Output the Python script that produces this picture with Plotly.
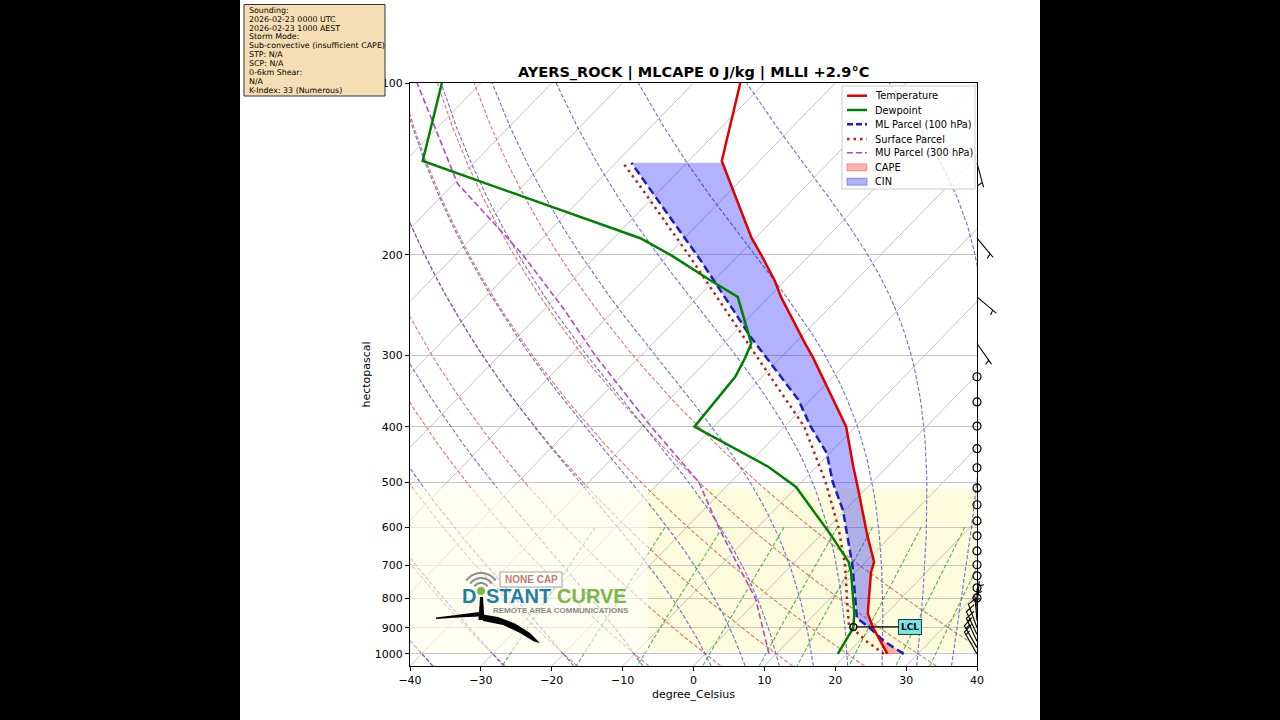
import numpy as np
import plotly.graph_objects as go

# ------------------------------------------------------------------ data ----
pressure_hpa = [1000, 900, 850, 720, 690, 620, 510, 470, 400, 327, 303, 286,
                237, 222, 201, 187, 137, 100]
temperature_c = [25.7, 20.1, 17.4, 12.2, 11.2, 6.6, -1.4, -4.8, -11.3, -21.6,
                 -25.4, -28.5, -38.3, -41.4, -46.6, -50.5, -65.3, -73.4]
dewpoint_c = [18.7, 17.3, 15.5, 9.4, 7.6, 1.5, -10.1, -16.8, -32.7, -33.8,
              -35.0, -36.1, -44.4, -50.4, -59.2, -66.2, -107.5, -115.5]

ml_parcel_p = [1000, 950, 900, 866, 794, 703, 560, 500, 445, 400, 359, 300,
               278, 250, 204, 150, 138]
ml_parcel_t = [28.0, 23.5, 19.6, 16.5, 13.3, 8.8, -0.3, -5.6, -10.4, -16.3,
               -21.7, -32.6, -37.2, -43.2, -54.8, -72.9, -77.8]
sb_parcel_p = [1000, 950, 890, 850, 800, 700, 600, 500, 400, 300, 250, 200, 150, 138]
sb_parcel_t = [25.2, 21.0, 16.3, 14.6, 12.4, 7.6, 1.4, -6.6, -17.2, -33.8,
               -44.3, -57.1, -74.0, -79.0]
mu_parcel_p = [1000, 900, 800, 700, 600, 500, 400, 300, 250, 200, 150, 100]
mu_parcel_t = [9.0, 4.5, -0.5, -7.5, -15.5, -24.5, -38.8, -56.5, -67.0, -80.5,
               -99.5, -119.0]

lcl_p = 897.0
lcl_t = 17.2

wind_p = [138, 187, 237, 286, 327, 362, 399, 437, 472, 512, 548, 585, 621, 660,
          698, 730, 766, 798, 825, 850, 875, 900, 925, 950, 975, 1000]
wind_speed_kt = [5, 5, 5, 5, 0, 0, 0, 0, 0, 0, 0, 0, 0, 0,
                 0, 0, 0, 0, 5, 5, 5, 10, 10, 15, 15, 15]
wind_dir_deg = [165, 140, 130, 145, 0, 0, 0, 0, 0, 0, 0, 0, 0, 0,
                0, 0, 0, 0, 5, 0, 355, 340, 335, 335, 330, 330]

x_ticks = [-40, -30, -20, -10, 0, 10, 20, 30, 40]
p_ticks = [100, 200, 300, 400, 500, 600, 700, 800, 900, 1000]

shade_p_bottom, shade_p_top = 990, 513

title_text = "AYERS_ROCK | MLCAPE 0 J/kg | MLLI +2.9°C"
info_lines = ["Sounding:", "2026-02-23 0000 UTC", "2026-02-23 1000 AEST",
              "Storm Mode:", "Sub-convective (insufficient CAPE)", "STP: N/A",
              "SCP: N/A", "0-6km Shear:", "N/A", "K-Index: 33 (Numerous)"]
legend_labels = ["Temperature", "Dewpoint", "ML Parcel (100 hPa)", "Surface Parcel",
                 "MU Parcel (300 hPa)", "CAPE", "CIN"]

# background-line families (MetPy defaults)
dry_t0 = np.arange(-40, 41, 10)
moist_t0 = np.concatenate((np.arange(-40, 0, 10), np.arange(0, 91, 5)))
mix_ratios = [0.0004, 0.001, 0.002, 0.004, 0.007, 0.01, 0.016, 0.024, 0.032]

# ------------------------------------------------------------ constants -----
RD, CPD, LV, EPS = 287.04749, 1004.67, 2.50084e6, 0.6219569
KAPPA = RD / CPD
P_BOT, P_TOP = 1050.0, 100.0
X_MIN, X_MAX = -40.0, 40.0
SKEW = X_MAX - X_MIN          # 45 deg skew in axes coordinates

FIG_W, FIG_H = 1280, 720
PL, PR, PT, PB = 410, 977, 83, 666
PW, PH = PR - PL, PB - PT

FONT = "DejaVu Sans"


def skew_x(t, p):
    t = np.asarray(t, dtype=float)
    p = np.asarray(p, dtype=float)
    return t + SKEW * np.log(P_BOT / p) / np.log(P_BOT / P_TOP)


def px(x):
    return (x - PL) / PW


def py(y):
    return (PB - y) / PH


def multiline(segs):
    xs, ys = [], []
    for x, p in segs:
        xs.extend(list(x)); xs.append(None)
        ys.extend(list(p)); ys.append(None)
    return xs, ys


def moist_rate(t_k, p):
    es = 6.112 * np.exp(17.67 * (t_k - 273.15) / (t_k - 29.65))
    rs = EPS * es / (p - es)
    return (RD * t_k + LV * rs) / (CPD + LV * LV * rs * EPS / (RD * t_k * t_k))


def moist_lapse(t0_c, p_out, p_ref=1000.0, n=300):
    t0 = np.asarray(t0_c, float) + 273.15

    def integrate(p_end):
        lnp = np.linspace(np.log(p_ref), np.log(p_end), n)
        t = t0.copy()
        temps = [t.copy()]
        for i in range(n - 1):
            h = lnp[i + 1] - lnp[i]
            p0, pm, p1 = np.exp(lnp[i]), np.exp(lnp[i] + h / 2), np.exp(lnp[i + 1])
            k1 = moist_rate(t, p0)
            k2 = moist_rate(t + h / 2 * k1, pm)
            k3 = moist_rate(t + h / 2 * k2, pm)
            k4 = moist_rate(t + h * k3, p1)
            t = t + h / 6 * (k1 + 2 * k2 + 2 * k3 + k4)
            temps.append(t.copy())
        return lnp, np.array(temps)

    lnp_up, t_up = integrate(P_TOP)
    lnp_dn, t_dn = integrate(P_BOT)
    lnp_all = np.concatenate([lnp_dn[::-1], lnp_up[1:]])[::-1]
    t_all = np.concatenate([t_dn[::-1], t_up[1:]])[::-1]
    return np.array([np.interp(np.log(p_out), lnp_all, t_all[:, j])
                     for j in range(t_all.shape[1])]) - 273.15


def interp_lnp(p_src, v_src, p_new):
    lp = np.log(np.asarray(p_src, float))
    order = np.argsort(lp)
    return np.interp(np.log(p_new), lp[order], np.asarray(v_src, float)[order])


def area_segments(pp, tp, pe, te):
    lo, hi = min(pp), max(pp)
    p_all = np.array(sorted(set(list(pp) + [p for p in pe if lo <= p <= hi]),
                            reverse=True), float)
    par = interp_lnp(pp, tp, p_all)
    env = interp_lnp(pe, te, p_all)
    d = par - env
    segs = []
    cur = dict(p=[p_all[0]], par=[par[0]], env=[env[0]], s=np.sign(d[0]))
    for i in range(1, len(p_all)):
        s = np.sign(d[i])
        if s != 0 and cur["s"] != 0 and s != cur["s"]:
            f = d[i - 1] / (d[i - 1] - d[i])
            pc = np.exp(np.log(p_all[i - 1]) + f * (np.log(p_all[i]) - np.log(p_all[i - 1])))
            tc = par[i - 1] + f * (par[i] - par[i - 1])
            cur["p"].append(pc); cur["par"].append(tc); cur["env"].append(tc)
            segs.append(cur)
            cur = dict(p=[pc], par=[tc], env=[tc], s=s)
        cur["p"].append(p_all[i]); cur["par"].append(par[i]); cur["env"].append(env[i])
    segs.append(cur)
    return segs


def barb_vertices(speed, direction, s=3.6):
    L = 7.0
    spacing, full_h, full_w = L * 0.125, L * 0.4, L * 0.25
    mag = 5 * np.round(speed / 5.0)
    nflags = int(mag // 50); mag -= nflags * 50
    nbarbs = int(mag // 10); mag -= nbarbs * 10
    half = mag >= 5
    verts = [(0.0, 0.0)]
    offset = L
    for _ in range(nflags):
        if offset != L:
            offset += spacing / 2.0
        verts += [(0, offset), (full_h, offset - full_w / 2), (0, offset - full_w)]
        offset -= full_w + spacing
    for _ in range(nbarbs):
        verts += [(0, offset), (full_h, offset + full_w / 2), (0, offset)]
        offset -= spacing
    if half:
        if offset == L:
            verts.append((0, offset))
            offset -= 1.5 * spacing
        verts += [(0, offset), (full_h / 2, offset + full_w / 4), (0, offset)]
    rad = np.deg2rad(direction)
    u, v = -speed * np.sin(rad), -speed * np.cos(rad)
    a = np.arctan2(v, u) + np.pi / 2
    out = []
    for x, y in verts:
        out.append((s * (x * np.cos(a) - y * np.sin(a)), s * (x * np.sin(a) + y * np.cos(a))))
    return out


# ------------------------------------------------------------- figure -------
fig = go.Figure()
p_bg = np.linspace(P_BOT, P_TOP, 50)

# isotherms (skewed x grid)
iso = [(skew_x([t, t], [P_BOT, P_TOP]), [P_BOT, P_TOP]) for t in range(-130, 41, 10)]
xs, ys = multiline(iso)
fig.add_trace(go.Scatter(x=xs, y=ys, mode="lines", hoverinfo="skip",
                         line=dict(color="#b4b4b4", width=0.8)))

# dry adiabats
dry = [(skew_x((t0 + 273.15) * (p_bg / 1000.0) ** KAPPA - 273.15, p_bg), p_bg)
       for t0 in dry_t0]
xs, ys = multiline(dry)
fig.add_trace(go.Scatter(x=xs, y=ys, mode="lines", hoverinfo="skip",
                         line=dict(color="rgba(210,85,70,0.8)", width=1.1, dash="4px,2px")))

# moist adiabats
moist = moist_lapse(moist_t0, p_bg)
xs, ys = multiline([(skew_x(row, p_bg), p_bg) for row in moist])
fig.add_trace(go.Scatter(x=xs, y=ys, mode="lines", hoverinfo="skip",
                         line=dict(color="rgba(75,75,195,0.8)", width=1.1, dash="4px,2px")))

# mixing ratio lines
p_mix = np.linspace(600, P_BOT, 50)
segs = []
for w in mix_ratios:
    e = p_mix * w / (EPS + w)
    lg = np.log(e / 6.112)
    segs.append((skew_x(243.5 * lg / (17.67 - lg), p_mix), p_mix))
xs, ys = multiline(segs)
fig.add_trace(go.Scatter(x=xs, y=ys, mode="lines", hoverinfo="skip",
                         line=dict(color="rgba(50,155,50,0.8)", width=1.1, dash="4px,2px")))

# CAPE / CIN shading (ML parcel vs environment)
for seg in area_segments(ml_parcel_p, ml_parcel_t, pressure_hpa, temperature_c):
    p = np.array(seg["p"])
    xpoly = np.concatenate([skew_x(seg["par"], p), skew_x(seg["env"], p)[::-1]])
    ypoly = np.concatenate([p, p[::-1]])
    col = "rgba(255,0,0,0.3)" if seg["s"] > 0 else "rgba(0,0,255,0.3)"
    fig.add_trace(go.Scatter(x=xpoly, y=ypoly, mode="lines", fill="toself",
                             fillcolor=col, line=dict(width=0), hoverinfo="skip"))

# parcels
fig.add_trace(go.Scatter(x=skew_x(mu_parcel_t, mu_parcel_p), y=mu_parcel_p, mode="lines",
                         line=dict(color="#b845c8", width=1.6, dash="6px,3px"), hoverinfo="skip"))
fig.add_trace(go.Scatter(x=skew_x(sb_parcel_t, sb_parcel_p), y=sb_parcel_p, mode="lines",
                         line=dict(color="#b22222", width=2.5, dash="2.5px,4px"), hoverinfo="skip"))
fig.add_trace(go.Scatter(x=skew_x(ml_parcel_t, ml_parcel_p), y=ml_parcel_p, mode="lines",
                         line=dict(color="#1c1cc8", width=2.5, dash="8px,4px"), hoverinfo="skip"))

# environment
fig.add_trace(go.Scatter(x=skew_x(temperature_c, pressure_hpa), y=pressure_hpa, mode="lines",
                         line=dict(color="#e00000", width=2.5), name="Temperature"))
fig.add_trace(go.Scatter(x=skew_x(dewpoint_c, pressure_hpa), y=pressure_hpa, mode="lines",
                         line=dict(color="#008000", width=2.5), name="Dewpoint"))

# LCL marker
fig.add_trace(go.Scatter(x=skew_x([lcl_t], [lcl_p]), y=[lcl_p], mode="markers",
                         marker=dict(symbol="circle-open", size=7, color="black",
                                     line=dict(width=1.6, color="black")),
                         cliponaxis=False, hoverinfo="skip"))

# calm winds (empty barbs)
calm_p = [p for p, s in zip(wind_p, wind_speed_kt) if 5 * round(s / 5) == 0]
fig.add_trace(go.Scatter(x=[X_MAX] * len(calm_p), y=calm_p, mode="markers",
                         marker=dict(symbol="circle-open", size=8, color="black",
                                     line=dict(width=1.2, color="black")),
                         cliponaxis=False, hoverinfo="skip"))

shapes = []
annotations = []

# canvas (white figure area inside black frame) and shaded band
shapes.append(dict(type="rect", xref="paper", yref="paper", x0=px(240), x1=px(1040),
                   y0=py(720), y1=py(0), fillcolor="white", line=dict(width=0), layer="below"))
shapes.append(dict(type="rect", xref="paper", yref="y", x0=0, x1=1,
                   y0=shade_p_bottom, y1=shade_p_top, fillcolor="#fcfcdc",
                   line=dict(width=0), layer="below"))

# wind barbs
for p, spd, d in zip(wind_p, wind_speed_kt, wind_dir_deg):
    if 5 * round(spd / 5) == 0:
        continue
    verts = barb_vertices(spd, d)
    path = "M " + " L ".join(f"{x:.2f},{y:.2f}" for x, y in verts)
    shapes.append(dict(type="path", xref="paper", yref="y", xsizemode="pixel",
                       ysizemode="pixel", xanchor=1, yanchor=p, path=path,
                       line=dict(color="black", width=1.1)))

# LCL label
annotations.append(dict(x=float(skew_x(lcl_t, lcl_p)), y=float(np.log10(lcl_p)),
                        xref="x", yref="y", text="<b>LCL</b>", showarrow=True,
                        arrowhead=0, arrowwidth=1.2, arrowcolor="black", ax=57, ay=0,
                        standoff=4, font=dict(family=FONT, size=9, color="black"),
                        bgcolor="#74e6e6", bordercolor="#1d3f3f", borderwidth=1, borderpad=2))

# ---- logo (watermark) ----
def ppath(points, close=True):
    s = "M " + " L ".join(f"{px(x):.5f},{py(y):.5f}" for x, y in points)
    return s + (" Z" if close else "")


def paper_text(x, y, text, size, color, family="Liberation Sans", xanchor="center"):
    return dict(x=px(x), y=py(y), xref="paper", yref="paper", text=text,
                showarrow=False, xanchor=xanchor, yanchor="middle",
                font=dict(family=family, size=size, color=color))


shapes.append(dict(type="rect", xref="paper", yref="paper", x0=px(410), x1=px(648),
                   y0=py(652), y1=py(488), fillcolor="white", opacity=0.6,
                   line=dict(width=0), layer="above"))
# radio waves
for r in (8, 13, 18):
    ang = np.linspace(np.deg2rad(35), np.deg2rad(145), 20)
    pts = [(481 + r * np.cos(a), 591 - r * np.sin(a)) for a in ang]
    shapes.append(dict(type="path", xref="paper", yref="paper", path=ppath(pts, False),
                       line=dict(color="#8c8c8c", width=2)))
# NONE CAP box
shapes.append(dict(type="rect", xref="paper", yref="paper", x0=px(500), x1=px(562),
                   y0=py(587), y1=py(572), fillcolor="rgba(255,255,255,0.7)",
                   line=dict(color="#a0a0a0", width=1)))
annotations.append(paper_text(531, 579.5, "<b>NONE CAP</b>", 10, "#c47a70"))
# antenna swoosh
shapes.append(dict(type="path", xref="paper", yref="paper", fillcolor="black", line=dict(width=0),
                   path=ppath([(436, 617.5), (460, 614.5), (479, 612.0), (479, 616.5),
                               (458, 617.5), (436, 619.0)])))
shapes.append(dict(type="path", xref="paper", yref="paper", fillcolor="black", line=dict(width=0),
                   path=ppath([(480, 597), (483, 597), (484.5, 620), (478.5, 620)])))
shapes.append(dict(type="path", xref="paper", yref="paper", fillcolor="black", line=dict(width=0),
                   path=ppath([(483, 614.5), (498, 617), (515, 623.5), (530, 633), (540, 643),
                               (534, 641.5), (520, 633), (503, 625), (483, 621)])))
shapes.append(dict(type="circle", xref="paper", yref="paper", x0=px(477), x1=px(485),
                   y0=py(595), y1=py(587), fillcolor="#7ab648", line=dict(width=0)))
annotations.append(paper_text(478, 596, "<b>D</b>", 20, "#1d7ea6", xanchor="right"))
annotations.append(paper_text(484, 596, "<b>STANT</b>", 20, "#1d7ea6", xanchor="left"))
annotations.append(paper_text(555, 596, "<b>CURVE</b>", 20, "#7ab648", xanchor="left"))
annotations.append(paper_text(561, 610, "<b>REMOTE AREA COMMUNICATIONS</b>", 8, "#8a8a8a"))

# ---- legend (matplotlib-style box) ----
shapes.append(dict(type="rect", xref="paper", yref="paper", x0=px(842), x1=px(975),
                   y0=py(189), y1=py(86), fillcolor="rgba(255,255,255,0.8)",
                   line=dict(color="#cccccc", width=1)))
row_y = [95.7, 110, 124.3, 139, 152.7, 167.3, 181.7]
line_styles = [("#e00000", 2.5, "solid"), ("#008000", 2.5, "solid"),
               ("#1c1cc8", 2.5, "6px,3px"), ("#b22222", 2.5, "2.5px,4px"),
               ("#b845c8", 1.6, "6px,3px")]
for (col, wd, ds), yy in zip(line_styles, row_y[:5]):
    shapes.append(dict(type="line", xref="paper", yref="paper", x0=px(847), x1=px(867),
                       y0=py(yy), y1=py(yy), line=dict(color=col, width=wd, dash=ds)))
for col, edge, yy in [("rgba(255,0,0,0.3)", "rgba(255,0,0,0.35)", row_y[5]),
                      ("rgba(0,0,255,0.3)", "rgba(0,0,255,0.35)", row_y[6])]:
    shapes.append(dict(type="rect", xref="paper", yref="paper", x0=px(847), x1=px(867),
                       y0=py(yy + 3.5), y1=py(yy - 3.5), fillcolor=col, line=dict(color=edge, width=1)))
for lab, yy in zip(legend_labels, row_y):
    annotations.append(paper_text(873, yy, lab, 9.8, "black", family=FONT, xanchor="left"))

# ---- title and info box ----
annotations.append(paper_text(693.5, 72, f"<b>{title_text}</b>", 14.5, "black", family=FONT))
shapes.append(dict(type="rect", xref="paper", yref="paper", x0=px(244), x1=px(385),
                   y0=py(96), y1=py(4.5), fillcolor="#f5deb3",
                   line=dict(color="#333333", width=1)))
for i, line in enumerate(info_lines):
    annotations.append(paper_text(246.5, 10.2 + 8.9 * i, line, 7.9, "black",
                                  family=FONT, xanchor="left"))

fig.update_layout(
    width=FIG_W, height=FIG_H,
    margin=dict(l=PL, r=FIG_W - PR, t=PT, b=FIG_H - PB),
    paper_bgcolor="black", plot_bgcolor="rgba(0,0,0,0)",
    showlegend=False,
    font=dict(family=FONT, color="black", size=11),
    shapes=shapes, annotations=annotations,
    xaxis=dict(range=[X_MIN, X_MAX], tickvals=x_ticks, ticks="outside", ticklen=4,
               tickwidth=1, tickcolor="black", showline=True, linecolor="black",
               linewidth=1, mirror=True, showgrid=False, zeroline=False,
               tickfont=dict(family=FONT, size=11, color="black"),
               title=dict(text="degree_Celsius", standoff=4,
                          font=dict(family=FONT, size=11, color="black"))),
    yaxis=dict(type="log", range=[np.log10(P_BOT), np.log10(P_TOP)], tickvals=p_ticks,
               ticktext=[str(p) for p in p_ticks], ticks="outside", ticklen=4,
               tickwidth=1, tickcolor="black", showline=True, linecolor="black",
               linewidth=1, mirror=True, showgrid=True, gridcolor="#c4c4c4",
               gridwidth=1, zeroline=False,
               tickfont=dict(family=FONT, size=11, color="black"),
               title=dict(text="hectopascal", standoff=1,
                          font=dict(family=FONT, size=11, color="black"))),
)

fig.write_html("out.html")
